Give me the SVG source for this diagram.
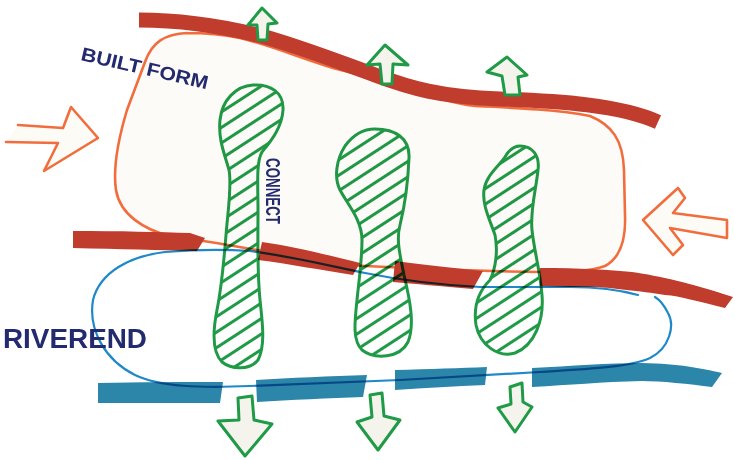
<svg xmlns="http://www.w3.org/2000/svg" width="735" height="460" viewBox="0 0 735 460">
<style>
.orange{fill:none;stroke:#f26d3d;stroke-width:2.6;stroke-linecap:round;stroke-linejoin:round}
.red{fill:#c03c2d}
.redline{fill:none;stroke:#c03c2d;stroke-linecap:butt}
.bband{fill:#2b86aa}
.bline{fill:none;stroke:#1f88c8;stroke-width:2.2;stroke-linecap:round;mix-blend-mode:multiply}
.blob{fill:url(#hatch);stroke:#1f9a46;stroke-width:3;stroke-linejoin:round;mix-blend-mode:multiply}
.garrow{fill:#f4f4ec;stroke:#1f9a46;stroke-width:3;stroke-linejoin:round}
.oarrow{fill:#fdfbf6;stroke:#f26d3d;stroke-width:2.6;stroke-linejoin:round;stroke-linecap:round}
.label{font-family:"Liberation Sans",Arial,sans-serif;font-weight:bold;fill:#232a6e}
</style>
<defs>
<pattern id="hatch" patternUnits="userSpaceOnUse" width="14" height="13" patternTransform="rotate(-33)">
<line x1="-1" y1="6.5" x2="15" y2="6.5" stroke="#1f9a46" stroke-width="3"/>
</pattern>
</defs>
<rect width="735" height="460" fill="#ffffff"/>

<g id="built-form">
<path d="M187,33 C165,34 152,42 145,62 L127,110 C118,140 113,170 116,190 C120,215 145,230 170,236 L210,242 C230,245 245,248 262,251 C300,258 330,264 365,266 C420,269 470,271 540,272 C565,272 590,272 605,266 C620,258 626,240 625,215 L624,170 C623,140 612,125 590,116 C560,110 520,108 475,106 C445,102 420,92 395,84 C370,78 350,72 333,68 C300,58 270,45 240,38 C220,34 205,33 187,33 Z" fill="#fcfbf7" stroke="none"/>
<path class="orange" d="M187,33 C165,34 152,42 145,62 L127,110 C118,140 113,170 116,190 C120,215 145,230 170,236 L210,242 C230,245 245,248 262,251 C300,258 330,264 365,266 C420,269 470,271 540,272 C565,272 590,272 605,266 C620,258 626,240 625,215 L624,170 C623,140 612,125 590,116 C560,110 520,108 475,106 C445,102 420,92 395,84 C370,78 350,72 333,68 C300,58 270,45 240,38 C220,34 205,33 187,33"/>
</g>

<g id="top-street">
<path class="redline" stroke-width="15" d="M139,20 C190,20 230,28 265,37 C300,47 340,62 375,75 C410,88 440,97 500,99 C560,101 620,105 658,122"/>
</g>

<g id="middle-street">
<path class="red" d="M73,231 C120,231 160,232 190,233 L205,238 L197,251 C160,250 120,249 73,248 Z"/>
<path class="red" d="M262,242 C290,246 320,253 360,263 L353,275 C320,270 290,264 258,260 Z"/>
<path class="red" d="M395,261 C420,264 450,268 483,271 L473,289 C440,286 415,284 393,282 Z"/>
<path class="red" d="M540,268 C580,268 610,270 632,272 C660,276 690,283 733,297 L725,308 C700,302 680,296 665,295 C640,291 610,288 598,287 C580,287 560,287 540,286 Z"/>
</g>

<g id="river-edge">
<path class="bband" d="M98,383 C140,382 180,382 223,382 L220,403 C180,403 140,403 98,403 Z"/>
<path class="bband" d="M256,380 C290,378 330,376 367,375 L363,397 C330,398 290,400 257,402 Z"/>
<path class="bband" d="M395,370 C430,369 460,368 487,367 L485,385 C455,386 425,388 395,390 Z"/>
<path class="bband" d="M532,368 C570,366 610,363 642,363 C680,364 700,368 722,373 L712,387 C690,384 660,381 642,381 C600,382 570,385 532,387 Z"/>
</g>

<g id="riverend">
<path class="bline" d="M638,295 C620,290 600,287 570,287 L480,287 C440,285 400,280 365,273 C330,266 290,256 250,251 C220,249 190,250 165,252 C130,256 100,272 93,300 C88,330 105,360 135,375 C160,387 200,388 250,386 L400,380 C450,377 500,374 540,372 C590,369 630,367 650,358 C670,348 675,325 668,313 C664,305 660,300 655,297"/>
</g>

<g id="connect-1">
<path class="blob" d="M253,85 C270,84 284,92 283,110 C282,128 270,142 262,152 C256,162 258,185 258,210 C258,240 257,270 260,300 C262,320 266,345 258,360 C250,370 232,370 222,362 C212,352 213,330 217,310 C221,290 224,260 226,235 C228,210 232,185 229,170 C225,155 218,140 220,120 C222,100 236,86 253,85 Z"/>
</g>
<g id="connect-2">
<path class="blob" d="M375,129 C395,129 410,138 409,158 C408,182 405,205 400,225 C396,240 400,255 404,275 C410,300 415,325 408,342 C400,358 375,360 362,350 C352,340 355,320 357,300 C359,280 362,260 362,240 C362,220 348,205 340,190 C334,178 336,160 345,146 C353,135 363,129 375,129 Z"/>
</g>
<g id="connect-3">
<path class="blob" d="M520,146 C532,146 540,155 538,170 C536,190 530,210 532,230 C534,250 540,270 542,295 C544,320 535,345 515,353 C498,358 480,345 476,325 C473,305 480,290 490,280 C496,268 498,250 495,235 C490,220 482,205 484,190 C486,175 500,165 505,157 C509,150 514,146 520,146 Z"/>
</g>

<g id="arrows-up">
<polygon class="garrow" points="262,8 277,23 268,24 267,40 258,40 257,25 248,25"/>
<polygon class="garrow" points="385,45 408,65 393,64 392,84 382,84 380,64 367,65"/>
<polygon class="garrow" points="507,57 527,75 518,77 520,95 505,95 502,76 487,72"/>
</g>
<g id="arrows-down">
<polygon class="garrow" points="238,398 252,396 254,420 272,424 245,456 218,421 239,420"/>
<polygon class="garrow" points="370,395 382,393 384,416 400,420 378,450 357,422 372,417"/>
<polygon class="garrow" points="510,387 522,383 523,402 532,407 515,432 498,408 511,404"/>
</g>
<g id="arrows-in">
<path class="oarrow" d="M18,125 L63,128 L71,107 L98,138 L44,171 L58,143 L6,142"/>
<path class="oarrow" d="M643,220 L678,188 L685,198 L673,213 L727,220 L727,238 L670,228 L683,245 L673,255 Z"/>
</g>

<g id="labels">
<text class="label" x="80" y="60" font-size="19" textLength="130" lengthAdjust="spacingAndGlyphs" transform="rotate(13 80 60)">BUILT FORM</text>
<text class="label" x="266" y="158" font-size="20" textLength="66" lengthAdjust="spacingAndGlyphs" transform="rotate(90 266 158)">CONNECT</text>
<text class="label" x="3" y="348" font-size="27" textLength="144" lengthAdjust="spacingAndGlyphs">RIVEREND</text>
</g>
</svg>
